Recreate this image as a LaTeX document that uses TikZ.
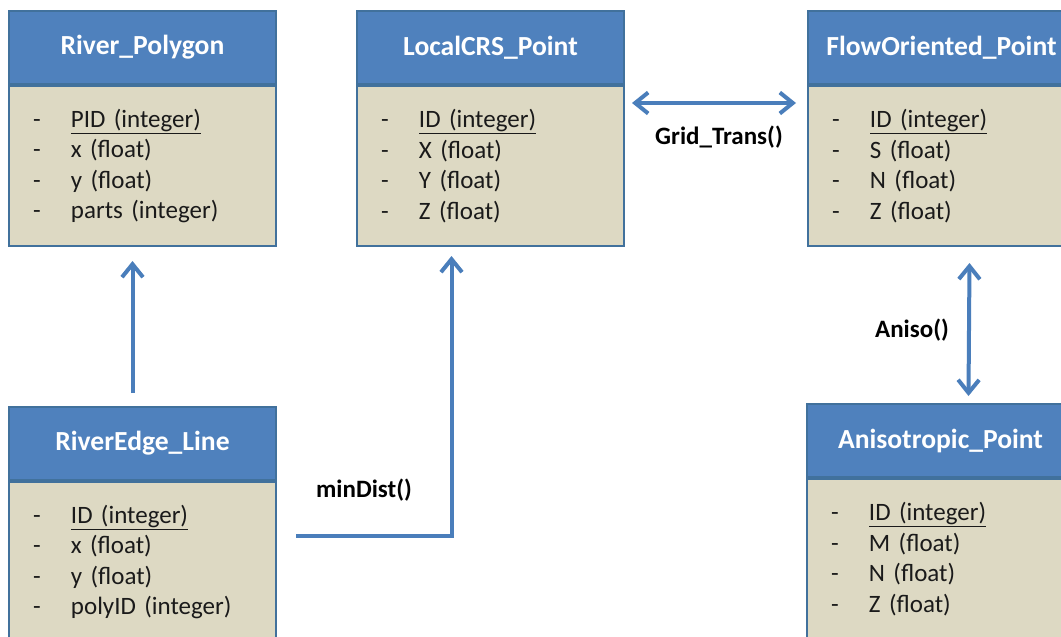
\documentclass[tikz,border=0pt]{standalone}
\usepackage{fontspec}
\setmainfont{Carlito}
\usetikzlibrary{arrows.meta,calc}

\definecolor{hdrblue}{HTML}{4F81BD}
\definecolor{edgeblue}{HTML}{41719C}
\definecolor{bodytan}{HTML}{DDD9C3}
\definecolor{linkblue}{HTML}{4A7EBB}
\definecolor{inkgrey}{HTML}{1A1A1A}

\tikzset{
  classhead/.style={draw=edgeblue, line width=2pt, fill=hdrblue, anchor=north west,
    minimum width=267pt, minimum height=73pt, inner sep=0pt, text=white,
    font=\fontsize{27.6}{32}\selectfont\bfseries},
  classbody/.style={draw=edgeblue, line width=2pt, fill=bodytan, anchor=north west,
    minimum width=267pt, minimum height=160pt, inner xsep=24pt, inner ysep=0pt,
    text width=219pt, align=left, text=inkgrey,
    font=\fontsize{25}{30.4}\selectfont},
  conn/.style={draw=linkblue, line width=4pt, line join=miter,
    arrows={-Straight Barb[length=13pt,width=21pt]}},
  twoway/.style={conn, arrows={Straight Barb[length=13pt,width=21pt]-Straight Barb[length=13pt,width=21pt]}},
  linklabel/.style={font=\fontsize{25}{29}\selectfont\bfseries, text=black, inner sep=0pt}
}
\newcommand{\attr}[1]{\makebox[38pt][l]{-}#1}

\begin{document}
\begin{tikzpicture}[x=1pt, y=-1pt]
  \useasboundingbox (0,0) rectangle (1061,637);
  \clip (0,0) rectangle (1061,637);
  \fill[white] (0,0) rectangle (1061,637);

  % River_Polygon
  \node[classhead] (rp-h) at (8,10) {River\_Polygon};
  \node[classbody] (rp-b) at (rp-h.south west)
    {\attr{\underline{PID (integer)}}\\ \attr{x (float)}\\ \attr{y (float)}\\ \attr{parts (integer)}};

  % LocalCRS_Point
  \node[classhead] (lc-h) at (356,10) {LocalCRS\_Point};
  \node[classbody] (lc-b) at (lc-h.south west)
    {\attr{\underline{ID (integer)}}\\ \attr{X (float)}\\ \attr{Y (float)}\\ \attr{Z (float)}};

  % FlowOriented_Point
  \node[classhead] (fo-h) at (807,10) {FlowOriented\_Point};
  \node[classbody] (fo-b) at (fo-h.south west)
    {\attr{\underline{ID (integer)}}\\ \attr{S (float)}\\ \attr{N (float)}\\ \attr{Z (float)}};

  % RiverEdge_Line
  \node[classhead] (re-h) at (8,406) {RiverEdge\_Line};
  \node[classbody] (re-b) at (re-h.south west)
    {\attr{\underline{ID (integer)}}\\ \attr{x (float)}\\ \attr{y (float)}\\ \attr{polyID (integer)}};

  % Anisotropic_Point
  \node[classhead] (ap-h) at (806,403) {Anisotropic\_Point};
  \node[classbody] (ap-b) at (ap-h.south west)
    {\attr{\underline{ID (integer)}}\\ \attr{M (float)}\\ \attr{N (float)}\\ \attr{Z (float)}};

  % connectors
  \draw[conn] ([xshift=-10pt,yshift=13pt]re-h.north) -- ([xshift=-10pt,yshift=-14pt]rp-b.south);

  \coordinate (md-start) at (296,536);
  \draw[conn] (md-start) -| ([xshift=-39pt,yshift=-9pt]lc-b.south);

  \draw[twoway] ([xshift=7pt,yshift=-18pt]lc-b.north east) -- ([xshift=-11pt,yshift=-18pt]fo-b.north west);

  \draw[twoway] ([xshift=28pt,yshift=-16pt]fo-b.south) -- ([xshift=28pt,yshift=7pt]ap-h.north);

  % connector labels
  \node[linklabel] (gt-lbl) at (719,137) {Grid\_Trans()};
  \node[linklabel] (an-lbl) at (912,330) {Aniso()};
  \node[linklabel] (md-lbl) at (364,490) {minDist()};
\end{tikzpicture}
\end{document}
